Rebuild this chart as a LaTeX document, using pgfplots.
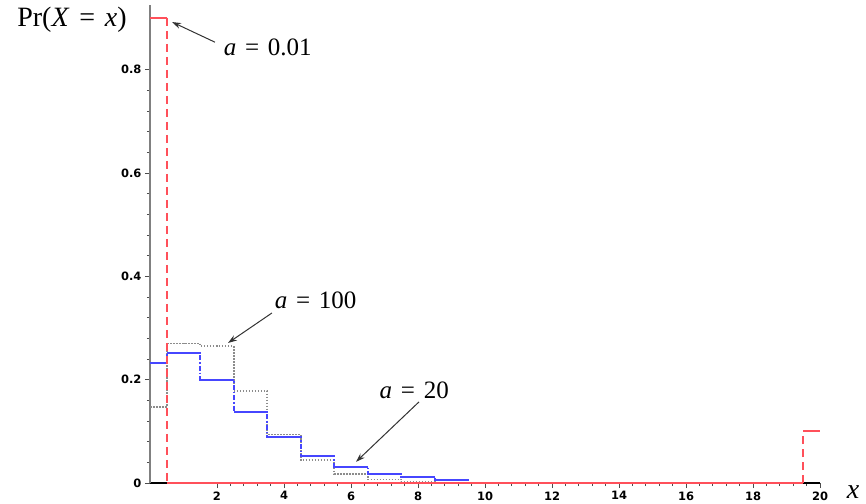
\documentclass[border=0pt]{standalone}
\usepackage{fontspec}
\setmainfont{Liberation Serif}
\newfontfamily\tickfont{DejaVu Sans}
\usepackage{pgfplots}
\pgfplotsset{compat=1.18}
\usetikzlibrary{arrows.meta}
\definecolor{redl}{RGB}{255,80,90}
\definecolor{bluel}{RGB}{70,70,255}
\definecolor{grayl}{RGB}{140,140,140}
\newcommand{\eqsp}{\hspace{0.35em}=\hspace{0.35em}}
\begin{document}
\begin{tikzpicture}
\begin{axis}[
  at={(0pt,0pt)}, anchor=south west,
  scale only axis, width=670pt, height=478pt,
  xmin=0, xmax=20, ymin=0, ymax=0.925,
  axis lines*=left,
  x axis line style={black, line width=1.4pt},
  y axis line style={gray, line width=2pt},
  xtick={2,4,...,20}, ytick={0,0.2,0.4,0.6,0.8},
  minor tick num=4,
  tick align=outside,
  major tick length=5pt, minor tick length=3pt,
  every tick/.style={black!70, line width=0.8pt},
  tick label style={font=\tickfont\bfseries\fontsize{11.5}{11.5}\selectfont},
  /pgf/number format/assume math mode=true,
  clip=false,
  bh/.style={draw=bluel, line width=2pt, solid, mark=none},
  rh/.style={draw=redl, line width=2pt, solid, mark=none},
  rv/.style={draw=redl, line width=2pt, dash pattern=on 8pt off 5pt, mark=none},
]
% a = 100 (gray dotted)
\addplot[draw=grayl, dash pattern=on 1.5pt off 1.5pt, line width=1.6pt, const plot mark mid, mark=none] coordinates {
(0,0.147)(1,0.270)(2,0.265)(3,0.178)(4,0.094)(5,0.044)(6,0.018)(7,0.007)(8,0.002)(9,0)};
% a = 20 (blue)
\addplot[draw=bluel, dash pattern=on 5pt off 2pt on 1.5pt off 2pt, line width=2pt, const plot mark mid, mark=none] coordinates {
(0,0.232)(1,0.252)(2,0.200)(3,0.138)(4,0.089)(5,0.052)(6,0.031)(7,0.018)(8,0.011)(9,0.006)(10,0)};
\addplot[bh] coordinates {(0,0.232)(0.5,0.232)};
\addplot[bh] coordinates {(0.5,0.252)(1.5,0.252)};
\addplot[bh] coordinates {(1.5,0.200)(2.5,0.200)};
\addplot[bh] coordinates {(2.5,0.138)(3.5,0.138)};
\addplot[bh] coordinates {(3.5,0.089)(4.5,0.089)};
\addplot[bh] coordinates {(4.5,0.052)(5.5,0.052)};
\addplot[bh] coordinates {(5.5,0.031)(6.5,0.031)};
\addplot[bh] coordinates {(6.5,0.018)(7.5,0.018)};
\addplot[bh] coordinates {(7.5,0.011)(8.5,0.011)};
\addplot[bh] coordinates {(8.5,0.006)(9.5,0.006)};
% a = 0.01 (red)
\addplot[rv] coordinates {(0.5,0.9)(0.5,0)};
\addplot[rv] coordinates {(19.5,0)(19.5,0.1)};
\addplot[rh] coordinates {(0,0.9)(0.5,0.9)};
\addplot[rh] coordinates {(0.5,0)(19.5,0)};
\addplot[rh] coordinates {(19.5,0.1)(20,0.1)};
% annotations
\draw[-{Stealth[length=9pt,width=6pt]}, line width=1pt, black!80] (axis cs:1.94,0.853) -- (axis cs:0.66,0.892);
\node[anchor=west, font=\fontsize{25}{25}\selectfont] at (axis cs:2.1,0.843) {\textit{a}\eqsp 0.01};
\draw[-{Stealth[length=9pt,width=6pt]}, line width=1pt, black!80] (axis cs:3.64,0.329) -- (axis cs:2.33,0.271);
\node[anchor=west, font=\fontsize{25}{25}\selectfont] at (axis cs:3.62,0.354) {\textit{a}\eqsp 100};
\draw[-{Stealth[length=9pt,width=6pt]}, line width=1pt, black!80] (axis cs:8.03,0.157) -- (axis cs:6.15,0.041);
\node[anchor=west, font=\fontsize{25}{25}\selectfont] at (axis cs:6.75,0.18) {\textit{a}\eqsp 20};
\end{axis}
\node[font=\fontsize{28}{28}\selectfont] at (-78pt,463pt) {Pr(\textit{X}\eqsp\textit{x})};
\node[font=\fontsize{28}{28}\selectfont] at (703pt,-9pt) {\textit{x}};
\pgfresetboundingbox
\useasboundingbox (-150pt,-20pt) rectangle (716pt,483pt);
\end{tikzpicture}
\end{document}
